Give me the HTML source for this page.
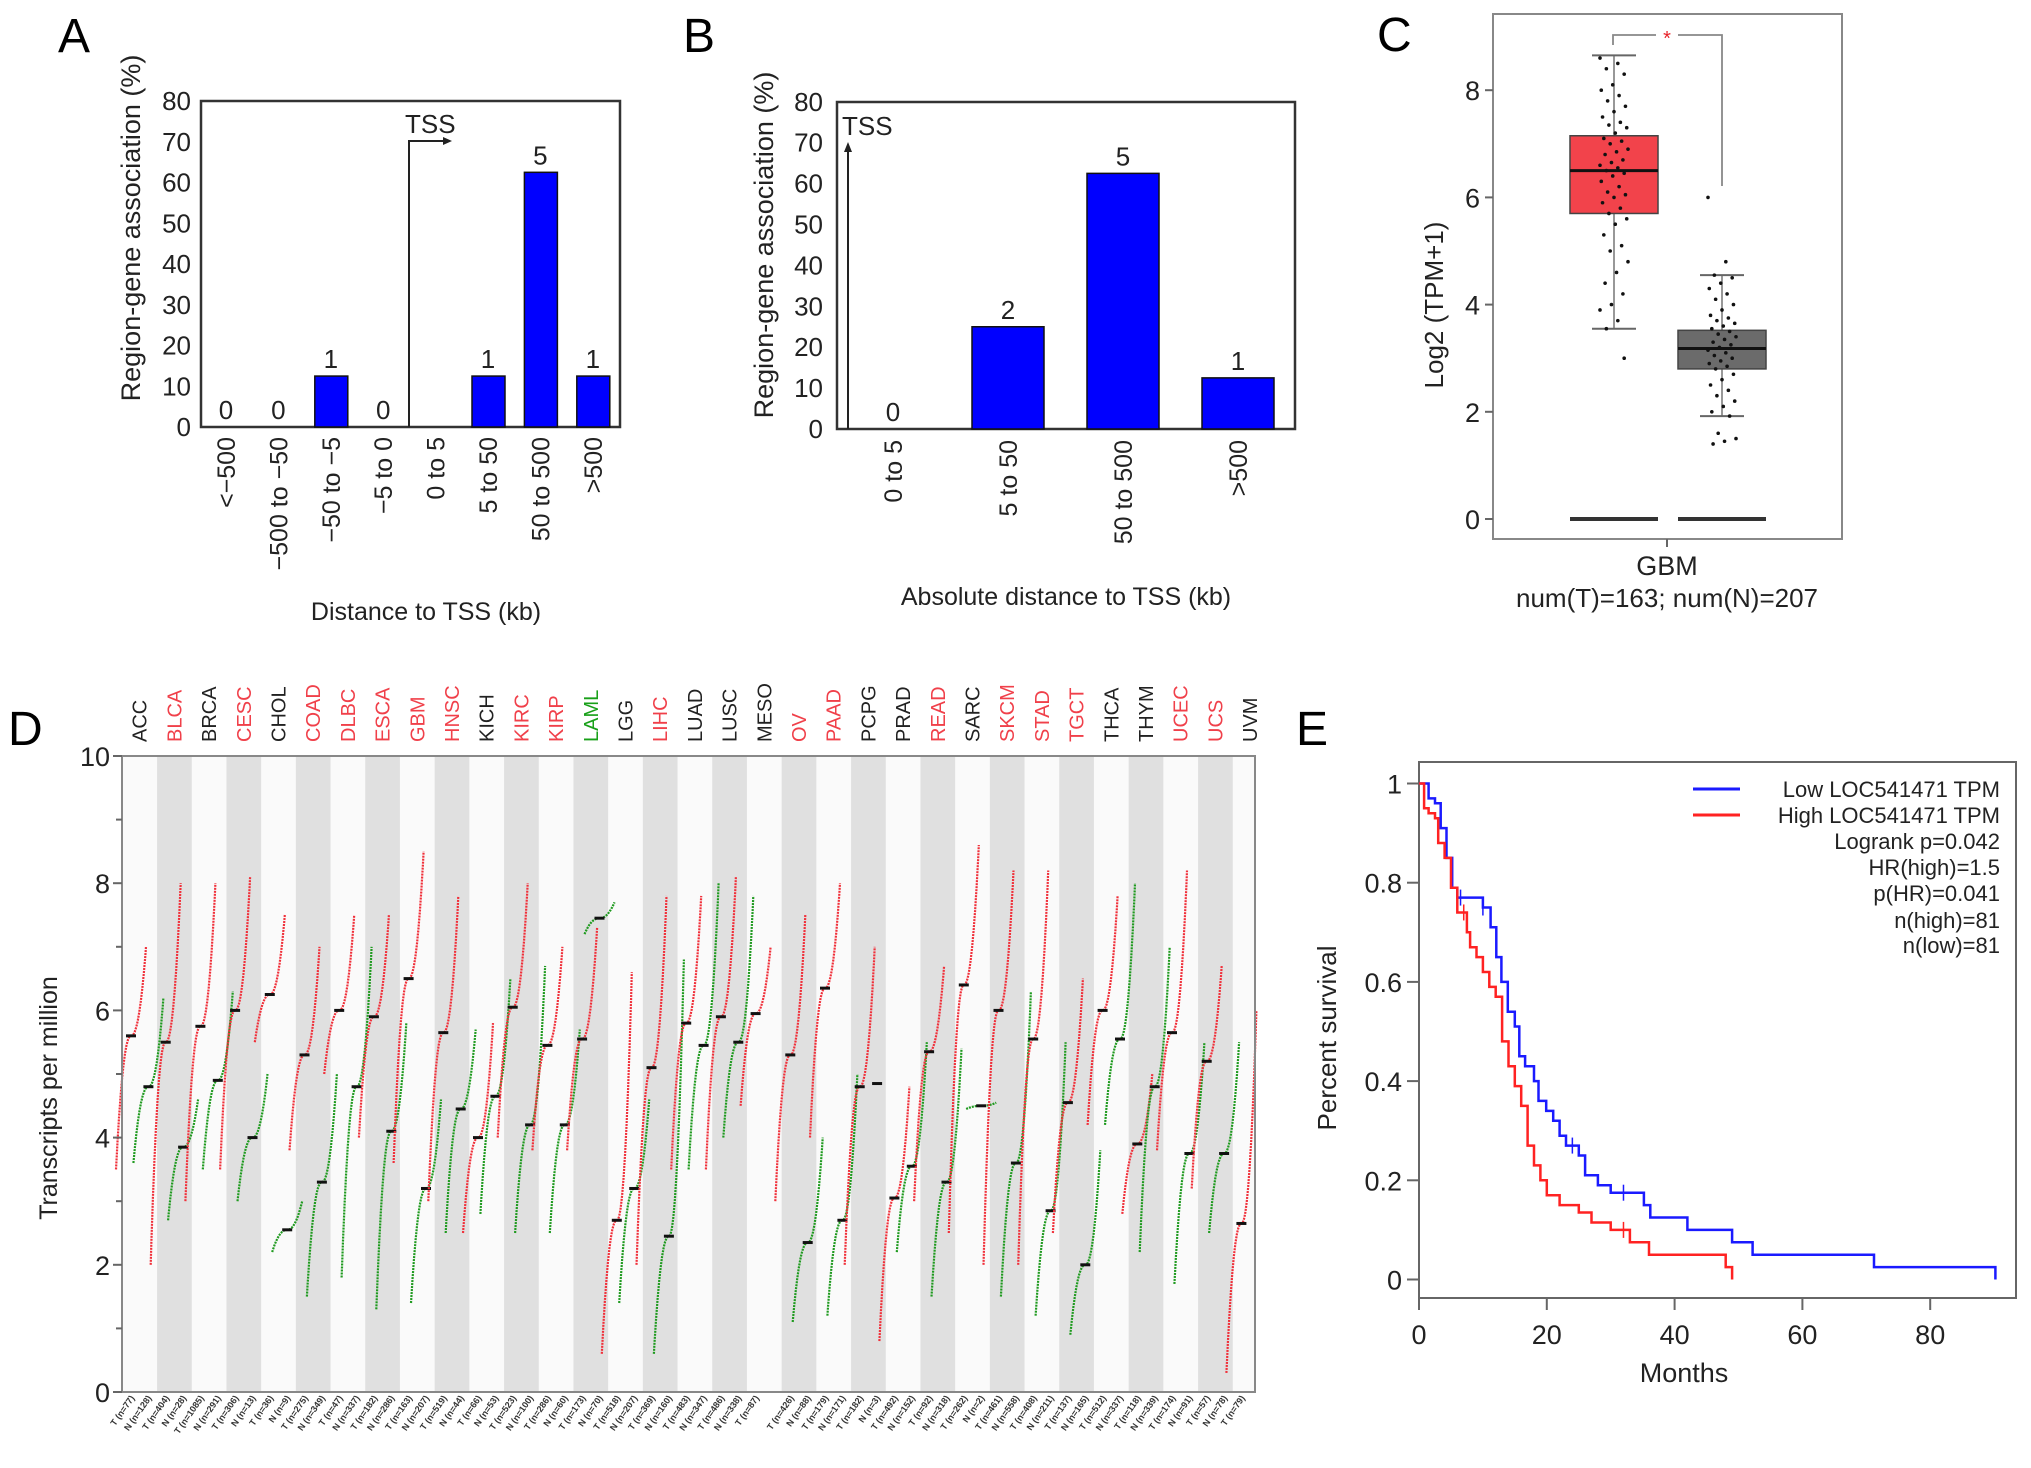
<!DOCTYPE html>
<html><head><meta charset="utf-8">
<style>
html,body{margin:0;padding:0;background:#fff;}
svg{display:block;font-family:"Liberation Sans",Arial,sans-serif;}
</style></head>
<body>
<svg id="fig" width="2031" height="1468" viewBox="0 0 2031 1468" xmlns="http://www.w3.org/2000/svg">
  <rect x="0" y="0" width="2031" height="1468" fill="#fff"/>
  <!-- Panel letters -->
  <text x="58" y="52" font-size="48">A</text>
  <text x="683" y="52" font-size="48">B</text>
  <text x="1377" y="51" font-size="48">C</text>
  <text x="8" y="745" font-size="48">D</text>
  <text x="1296" y="745" font-size="48">E</text>

  <!-- Panel A static -->
  <g id="panelA">
    <rect x="201" y="101" width="419" height="326" fill="none" stroke="#333" stroke-width="2.5"/>
    <text transform="translate(140,228) rotate(-90)" text-anchor="middle" font-size="27" fill="#222">Region-gene association (%)</text>
    <text x="426" y="620" text-anchor="middle" font-size="25" fill="#222">Distance to TSS (kb)</text>
    <path d="M409 427 V141 H444" fill="none" stroke="#222" stroke-width="2"/>
    <path d="M452 141 L443 137 L443 145 Z" fill="#222"/>
    <text x="405" y="133" font-size="26" fill="#222">TSS</text>
  </g>
  <!-- Panel B static -->
  <g id="panelB">
    <rect x="837" y="102" width="458" height="327" fill="none" stroke="#333" stroke-width="2.5"/>
    <text transform="translate(773,245) rotate(-90)" text-anchor="middle" font-size="27" fill="#222">Region-gene association (%)</text>
    <text x="1066" y="605" text-anchor="middle" font-size="25" fill="#222">Absolute distance to TSS (kb)</text>
    <path d="M848 429 V150" fill="none" stroke="#222" stroke-width="2"/>
    <path d="M848 142 L844 152 L852 152 Z" fill="#222"/>
    <text x="842" y="135" font-size="26" fill="#222">TSS</text>
  </g>
  <!-- Panel C static -->
  <g id="panelC">
    <rect x="1493" y="14" width="349" height="525" fill="none" stroke="#888" stroke-width="2"/>
    <text transform="translate(1443,305) rotate(-90)" text-anchor="middle" font-size="26" fill="#222">Log2 (TPM+1)</text>
    <line x1="1667" y1="539" x2="1667" y2="547" stroke="#666" stroke-width="2"/>
    <text x="1667" y="575" text-anchor="middle" font-size="27" fill="#222">GBM</text>
    <text x="1667" y="607" text-anchor="middle" font-size="26" fill="#222">num(T)=163; num(N)=207</text>
    <path d="M1613 45 V35 H1656 M1678 35 H1722 V186" fill="none" stroke="#888" stroke-width="1.8"/>
    <text x="1667" y="45" text-anchor="middle" font-size="20" fill="#e8222a">*</text>
  </g>
  <!-- Panel D static -->
  <g id="panelD">
    <rect x="122" y="756" width="1133" height="636" fill="#fafafa"/>
    <g id="dBands"></g>
    <g id="dMarks"></g>
    <rect x="122" y="756" width="1133" height="636" fill="none" stroke="#888" stroke-width="2"/>
    <text transform="translate(57,1098) rotate(-90)" text-anchor="middle" font-size="25" fill="#222">Transcripts per million</text>
  </g>
  <!-- Panel E static -->
  <g id="panelE">
    <rect x="1419" y="762" width="597" height="536" fill="none" stroke="#666" stroke-width="2"/>
    <text transform="translate(1336,1038) rotate(-90)" text-anchor="middle" font-size="26" fill="#222">Percent survival</text>
    <text x="1684" y="1382" text-anchor="middle" font-size="27" fill="#222">Months</text>
    <line x1="1693" y1="789" x2="1740" y2="789" stroke="#1a1aff" stroke-width="3"/>
    <line x1="1693" y1="815" x2="1740" y2="815" stroke="#ff2222" stroke-width="3"/>
    <g font-size="22" fill="#222" text-anchor="end">
      <text x="2000" y="797">Low LOC541471 TPM</text>
      <text x="2000" y="823">High LOC541471 TPM</text>
      <text x="2000" y="849">Logrank p=0.042</text>
      <text x="2000" y="875">HR(high)=1.5</text>
      <text x="2000" y="901">p(HR)=0.041</text>
      <text x="2000" y="928">n(high)=81</text>
      <text x="2000" y="953">n(low)=81</text>
    </g>
  </g>
</svg>
<script>
// ---------- DATA ----------
const aCategories = ["<\u2212500","\u2212500 to \u221250","\u221250 to \u22125","\u22125 to 0","0 to 5","5 to 50","50 to 500",">500"];
const aPercents = [0,0,12.5,0,0,12.5,62.5,12.5];
const aCounts = ["0","0","1","0","","1","5","1"];
const bCategories = ["0 to 5","5 to 50","50 to 500",">500"];
const bPercents = [0,25,62.5,12.5];
const bCounts = ["0","2","5","1"];
const pctTicks = [0,10,20,30,40,50,60,70,80];

const cBoxT = [3.55,5.7,6.5,7.15,8.65]; // whisker low, q1, median, q3, whisker high
const cBoxN = [1.92,2.8,3.18,3.52,4.55];
const cPointsT = [8.6,8.5,8.4,8.3,8.1,8.0,7.9,7.8,7.7,7.6,7.5,7.4,7.35,7.3,7.2,7.1,7.05,7.0,6.9,6.85,6.8,6.7,6.65,6.6,6.55,6.5,6.45,6.4,6.3,6.2,6.1,6.05,6.0,5.9,5.8,5.7,5.6,5.5,5.3,5.1,5.0,4.8,4.6,4.4,4.2,4.0,3.9,3.7,3.55,3.0];
const cPointsN = [6.0,4.8,4.55,4.5,4.4,4.3,4.2,4.1,4.0,3.9,3.8,3.75,3.7,3.65,3.6,3.55,3.5,3.45,3.4,3.35,3.3,3.25,3.2,3.15,3.1,3.05,3.0,2.95,2.9,2.85,2.8,2.7,2.6,2.5,2.4,2.3,2.2,2.1,2.0,1.92,1.6,1.5,1.45,1.4];
const cTicks = [0,2,4,6,8];

const dCancers = ["ACC","BLCA","BRCA","CESC","CHOL","COAD","DLBC","ESCA","GBM","HNSC","KICH","KIRC","KIRP","LAML","LGG","LIHC","LUAD","LUSC","MESO","OV","PAAD","PCPG","PRAD","READ","SARC","SKCM","STAD","TGCT","THCA","THYM","UCEC","UCS","UVM"];
const dLabelColors = ["k","r","k","r","k","r","r","r","r","r","k","r","r","g","k","r","k","k","k","r","r","k","k","r","k","r","r","r","k","k","r","r","k"];
const dTumorMedian = [5.6,5.5,5.75,6.0,6.25,5.3,6.0,5.9,6.5,5.65,4.0,6.05,5.45,5.55,2.7,5.1,5.8,5.9,5.95,5.3,6.35,4.8,3.05,5.35,6.4,6.0,5.55,4.55,6.0,3.9,5.65,5.2,2.65];
const dTumorMin = [3.5,2.0,3.0,3.5,5.5,3.8,5.0,4.0,3.6,3.0,2.5,4.0,3.8,3.8,0.6,2.0,3.5,3.5,4.5,3.0,4.0,2.0,0.8,3.0,2.5,2.0,2.0,2.5,4.2,2.8,3.8,3.2,0.3];
const dTumorMax = [7.0,8.0,8.0,8.1,7.5,7.0,7.5,7.5,8.5,7.8,5.8,8.0,7.0,7.3,6.6,7.8,7.8,8.1,7.0,7.5,8.0,7.0,4.8,6.7,8.6,8.2,8.2,6.5,7.8,5.0,8.2,6.7,6.0];
const dNormalMedian = [4.8,3.85,4.9,4.0,2.55,3.3,4.8,4.1,3.2,4.45,4.65,4.2,4.2,7.45,3.2,2.45,5.45,5.5,null,2.35,2.7,4.85,3.55,3.3,4.5,3.6,2.85,2.0,5.55,4.8,3.75,3.75,null];
const dNormalMin = [3.6,2.7,3.5,3.0,2.2,1.5,1.8,1.3,1.4,2.5,2.8,2.5,2.5,7.2,1.4,0.6,3.5,4.0,null,1.1,1.2,4.85,2.2,1.5,4.45,1.5,1.2,0.9,4.2,2.2,1.7,2.5,null];
const dNormalMax = [6.2,4.6,6.3,5.0,3.0,5.0,7.0,5.8,4.6,5.7,6.5,6.7,5.7,7.7,4.6,6.8,8.0,7.8,null,4.0,5.0,4.85,5.5,5.4,4.55,6.3,5.5,3.8,8.0,7.0,5.5,5.5,null];
const dTumorN = [77,404,1085,306,36,275,47,182,163,519,66,523,286,173,518,369,483,486,87,426,179,182,492,92,262,461,408,137,512,118,174,57,79];
const dNormalN = [128,28,291,13,9,349,337,286,207,44,53,100,60,70,207,160,347,338,null,88,171,3,152,318,2,558,211,165,337,339,91,78,null];
const dTicks = [0,2,4,6,8,10];

const eLowTimes = [0,1.5,2.5,3.4,4.3,5.2,6,10,11.2,12.1,12.9,13.9,15,15.7,16.6,18,18.7,19.9,21,22,23,25,26,28,30,35.2,36.2,42,49,52.2,71.2,90.2];
const eLowSurv  = [1,0.97,0.96,0.91,0.85,0.79,0.77,0.75,0.71,0.65,0.60,0.54,0.51,0.45,0.43,0.40,0.36,0.34,0.32,0.29,0.27,0.25,0.21,0.19,0.175,0.15,0.125,0.10,0.075,0.05,0.025,0];
const eHighTimes = [0,0.8,1.5,2.5,3,4,5,6,7.5,8,9,10,11,12,13,14,15,16,17,18,19,20,22,25,27,30,33,36,48,49];
const eHighSurv  = [1,0.95,0.94,0.93,0.88,0.85,0.79,0.74,0.70,0.67,0.65,0.62,0.59,0.57,0.48,0.43,0.39,0.35,0.27,0.23,0.20,0.17,0.15,0.135,0.115,0.10,0.075,0.05,0.025,0];
const eLowCensorT = [6.5,10,24,32];
const eLowCensorS = [0.77,0.75,0.27,0.175];
const eHighCensorT = [7,32];
const eHighCensorS = [0.74,0.10];
const eXTicks = [0,20,40,60,80];
const eYTicks = [0,0.2,0.4,0.6,0.8,1];

// ---------- HELPERS ----------
const NS = "http://www.w3.org/2000/svg";
const svg = document.getElementById("fig");
function mk(tag, attrs, parent, text) {
  const e = document.createElementNS(NS, tag);
  for (const k in attrs) e.setAttribute(k, attrs[k]);
  if (text !== undefined) e.textContent = text;
  (parent || svg).appendChild(e);
  return e;
}
let el;

// ---------- PANEL A ----------
const gA = document.getElementById("panelA");
const yA = v => 427 - v * 4.075;
const xA = i => 226 + 52.4 * i;
pctTicks.forEach(t => {
  el = mk("text", {x:191, y:yA(t)+9, "text-anchor":"end", "font-size":26, fill:"#222"}, gA, String(t));
  
  
});
aCategories.forEach((c, i) => {
  if (aPercents[i] > 0) {
    el = mk("rect", {x:xA(i)-16, y:yA(aPercents[i]), width:33, height:yA(0)-yA(aPercents[i]), fill:"#0000ff", stroke:"#111", "stroke-width":1.5}, gA);
    
    
  }
  if (aCounts[i] !== "") {
    el = mk("text", {x:xA(i), y:yA(aPercents[i])-8, "text-anchor":"middle", "font-size":26, fill:"#222"}, gA, aCounts[i]);
    
    
  }
  el = mk("text", {transform:`translate(${xA(i)+9},437) rotate(-90)`, "text-anchor":"end", "font-size":25, fill:"#222"}, gA, c);
  
  
});

// ---------- PANEL B ----------
const gB = document.getElementById("panelB");
const yB = v => 429 - v * 4.09;
const xB = i => 893 + 115 * i;
pctTicks.forEach(t => {
  el = mk("text", {x:823, y:yB(t)+9, "text-anchor":"end", "font-size":26, fill:"#222"}, gB, String(t));
  
  
});
bCategories.forEach((c, i) => {
  if (bPercents[i] > 0) {
    el = mk("rect", {x:xB(i)-36, y:yB(bPercents[i]), width:72, height:yB(0)-yB(bPercents[i]), fill:"#0000ff", stroke:"#111", "stroke-width":1.5}, gB);
    
    
  }
  el = mk("text", {x:xB(i), y:yB(bPercents[i])-8, "text-anchor":"middle", "font-size":26, fill:"#222"}, gB, bCounts[i]);
  
  
  el = mk("text", {transform:`translate(${xB(i)+9},440) rotate(-90)`, "text-anchor":"end", "font-size":25, fill:"#222"}, gB, c);
  
  
});

// ---------- PANEL C ----------
const gC = document.getElementById("panelC");
const yC = v => 519 - v * 53.6;
cTicks.forEach(t => {
  el = mk("text", {x:1480, y:yC(t)+10, "text-anchor":"end", "font-size":27, fill:"#222"}, gC, String(t));
  
  
  el = mk("line", {x1:1485, x2:1493, y1:yC(t), y2:yC(t), stroke:"#666", "stroke-width":2}, gC);
  
  
});
function drawBox(stats, cx, fill, pts, name) {
  el = mk("line", {x1:cx, x2:cx, y1:yC(stats[0]), y2:yC(stats[4]), stroke:"#777", "stroke-width":1.5}, gC);
  
  
  [stats[0], stats[4]].forEach(v => {
    el = mk("line", {x1:cx-22, x2:cx+22, y1:yC(v), y2:yC(v), stroke:"#666", "stroke-width":2}, gC);
    
    
  });
  el = mk("rect", {x:cx-44, y:yC(stats[3]), width:88, height:yC(stats[1])-yC(stats[3]), fill:fill, stroke:"#444", "stroke-width":1.5}, gC);
  
  
  el = mk("line", {x1:cx-44, x2:cx+44, y1:yC(stats[2]), y2:yC(stats[2]), stroke:"#111", "stroke-width":3}, gC);
  
  
  el = mk("line", {x1:cx-44, x2:cx+44, y1:yC(0), y2:yC(0), stroke:"#333", "stroke-width":4}, gC);
  
  
  pts.forEach((v, i) => {
    const jit = (((i * 37) % 23) - 11) / 11 * 14;
    el = mk("circle", {cx:cx + jit, cy:yC(v), r:1.8, fill:"#111"}, gC);
    
    
  });
}
drawBox(cBoxT, 1614, "#f2434b", cPointsT, "tumor");
drawBox(cBoxN, 1722, "#6b6b6b", cPointsN, "normal");

// ---------- PANEL D ----------
const gD = document.getElementById("panelD");
const gBands = document.getElementById("dBands");
const gMarks = document.getElementById("dMarks");
const yD = v => 1392 - v * 63.6;
const xDT = i => 131 + 34.7 * i;
const colMap = {k:"#222", r:"#f0404a", g:"#18a018"};
dCancers.forEach((c, i) => {
  const cx = xDT(i) + 8.7;
  if (i % 2 === 1) {
    el = mk("rect", {x:cx-17.35, y:756, width:34.7, height:636, fill:"#e0e0e0"}, gBands);
    
    
  }
  el = mk("text", {transform:`translate(${cx+7},742) rotate(-90)`, "font-size":20, fill:colMap[dLabelColors[i]]}, gD, c);
  
  
});
function drawCurve(x, lo, med, hi, color, name) {
  if (med === null) return;
  if (hi - lo < 0.05) {
    el = mk("line", {x1:x-5, x2:x+5, y1:yD(med), y2:yD(med), stroke:"#111", "stroke-width":3}, gMarks);
    
    
    return;
  }
  let d = "";
  for (let k = 0; k <= 40; k++) {
    const u = k / 40;
    const s = (u - 0.5) * 2;
    const shape = Math.sign(s) * Math.pow(Math.abs(s), 2.2);
    const v = shape < 0 ? med + (med - lo) * shape : med + (hi - med) * shape;
    d += (k ? "L" : "M") + (x - 15 + 30 * u).toFixed(1) + " " + yD(v).toFixed(1);
  }
  el = mk("path", {d:d, fill:"none", stroke:color, "stroke-width":2.2, "stroke-dasharray":"2 1"}, gMarks);
  
  
  el = mk("line", {x1:x-5, x2:x+5, y1:yD(med), y2:yD(med), stroke:"#111", "stroke-width":3}, gMarks);
  
  
}
dCancers.forEach((c, i) => {
  drawCurve(xDT(i), dTumorMin[i], dTumorMedian[i], dTumorMax[i], "#f0303a", "tumor");
  drawCurve(xDT(i) + 17.4, dNormalMin[i], dNormalMedian[i], dNormalMax[i], "#1f9a1f", "normal");
  el = mk("text", {transform:`translate(${xDT(i)+4},1398) rotate(-55)`, "text-anchor":"end", "font-size":9, "font-weight":"bold", fill:"#333"}, gD, "T (n=" + dTumorN[i] + ")");
  
  
  if (dNormalN[i] !== null) {
    el = mk("text", {transform:`translate(${xDT(i)+21},1398) rotate(-55)`, "text-anchor":"end", "font-size":9, "font-weight":"bold", fill:"#333"}, gD, "N (n=" + dNormalN[i] + ")");
    
    
  }
});
dTicks.forEach(t => {
  el = mk("text", {x:110, y:yD(t)+10, "text-anchor":"end", "font-size":27, fill:"#222"}, gD, String(t));
  
  
});
for (let t = 0; t <= 10; t++) {
  el = mk("line", {x1:t % 2 ? 116 : 113, x2:122, y1:yD(t), y2:yD(t), stroke:"#666", "stroke-width":2}, gD);
  
  
}

// ---------- PANEL E ----------
const gE = document.getElementById("panelE");
const xE = m => 1419 + m * 6.39;
const yE = s => 1279.5 - s * 496;
eXTicks.forEach(t => {
  el = mk("line", {x1:xE(t), x2:xE(t), y1:1298, y2:1310, stroke:"#666", "stroke-width":2}, gE);
  
  
  el = mk("text", {x:xE(t), y:1344, "text-anchor":"middle", "font-size":27, fill:"#222"}, gE, String(t));
  
  
});
eYTicks.forEach(t => {
  el = mk("line", {x1:1407, x2:1419, y1:yE(t), y2:yE(t), stroke:"#666", "stroke-width":2}, gE);
  
  
  el = mk("text", {x:1402, y:yE(t)+10, "text-anchor":"end", "font-size":27, fill:"#222"}, gE, String(t));
  
  
});
function stepPath(ts, ss) {
  let d = "M" + xE(ts[0]) + " " + yE(ss[0]);
  for (let i = 1; i < ts.length; i++) {
    d += "H" + xE(ts[i]).toFixed(1) + "V" + yE(ss[i]).toFixed(1);
  }
  return d;
}
el = mk("path", {d:stepPath(eLowTimes, eLowSurv), fill:"none", stroke:"#1a1aff", "stroke-width":2.5}, gE);


el = mk("path", {d:stepPath(eHighTimes, eHighSurv), fill:"none", stroke:"#ff2222", "stroke-width":2.5}, gE);


eLowCensorT.forEach((t, i) => {
  el = mk("line", {x1:xE(t), x2:xE(t), y1:yE(eLowCensorS[i])-8, y2:yE(eLowCensorS[i])+8, stroke:"#1a1aff", "stroke-width":1.5}, gE);
  
  
});
eHighCensorT.forEach((t, i) => {
  el = mk("line", {x1:xE(t), x2:xE(t), y1:yE(eHighCensorS[i])-8, y2:yE(eHighCensorS[i])+8, stroke:"#ff2222", "stroke-width":1.5}, gE);
  
  
});
</script>
</body></html>
